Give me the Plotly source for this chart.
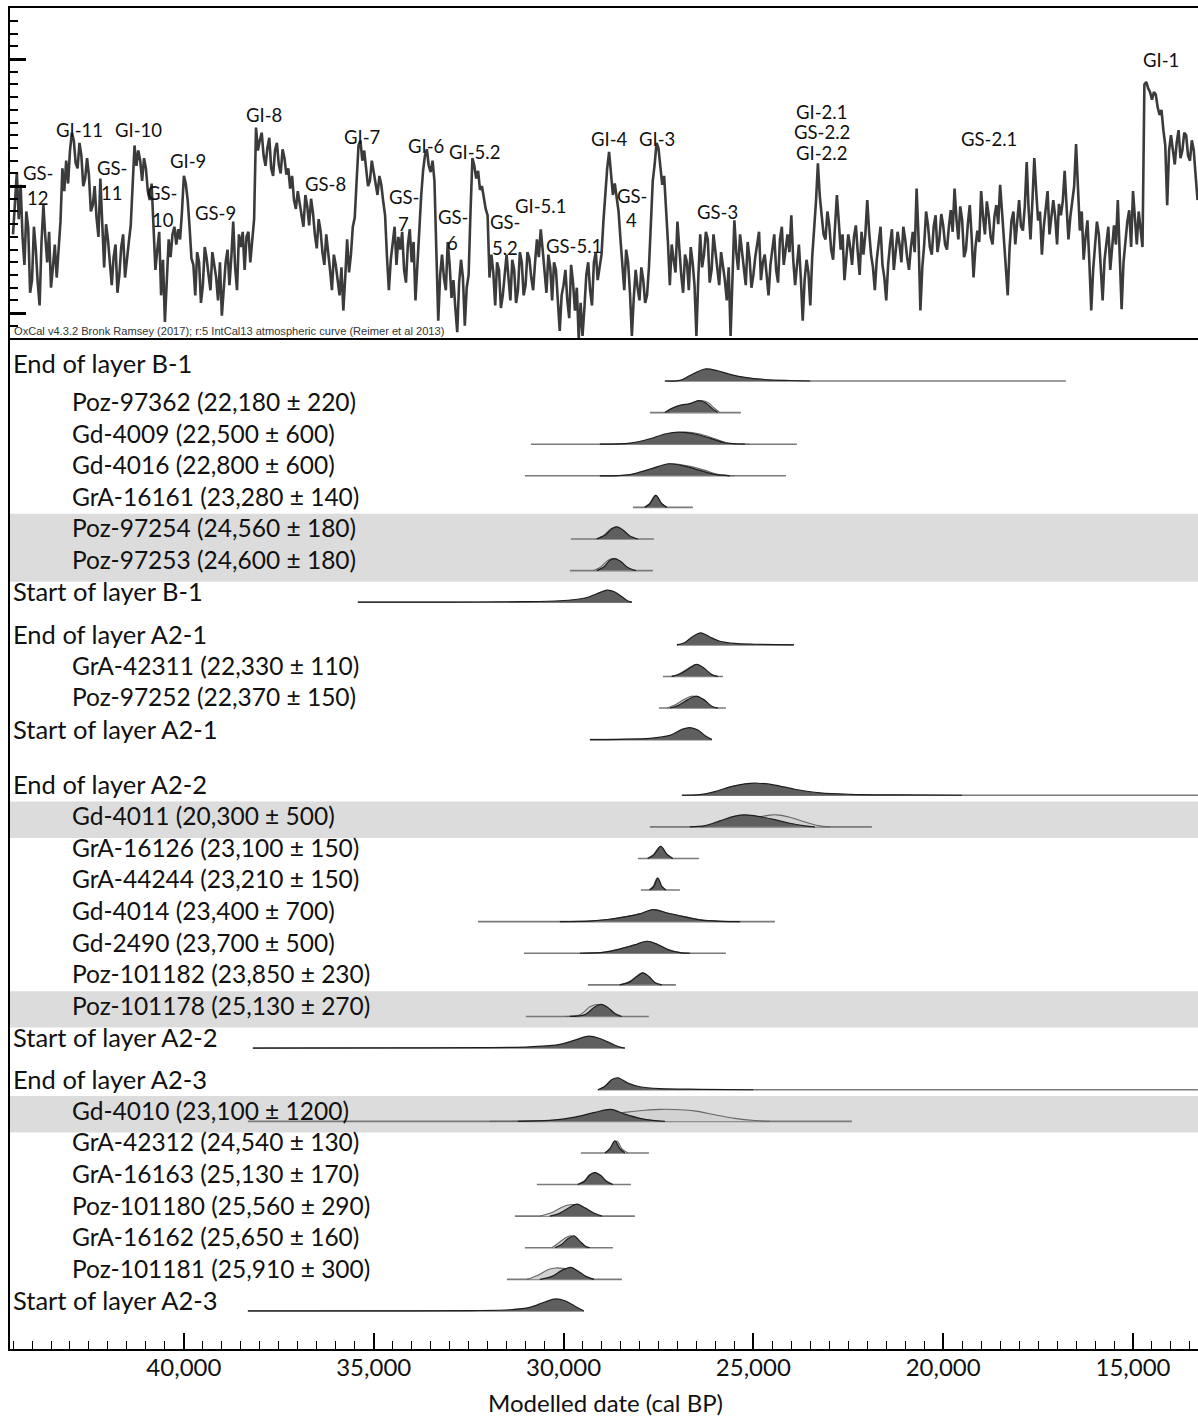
import plotly.graph_objects as go

# ---------------- Top panel: ice-core d18O record ----------------
ngrip_age_bp = [
    44500, 44450, 44400, 44350, 44300, 44250, 44200, 44150, 44100, 44050, 44000,
    43950, 43900, 43850, 43800, 43750, 43700, 43650, 43600, 43550, 43500, 43450, 43400, 43350, 43300, 43250, 43200, 43150, 43100, 43050, 43000,
    42950, 42900, 42850, 42800, 42750, 42700, 42650, 42600, 42550, 42500, 42450, 42400, 42350, 42300, 42250, 42200, 42150, 42100, 42050, 42000,
    41950, 41900, 41850, 41800, 41750, 41700, 41650, 41600, 41550, 41500, 41450, 41400, 41350, 41300, 41250, 41200, 41150, 41100, 41050, 41000,
    40950, 40900, 40850, 40800, 40750, 40700, 40650, 40600, 40550, 40500, 40450, 40400, 40350, 40300, 40250, 40200, 40150, 40100, 40050, 40000,
    39950, 39900, 39850, 39800, 39750, 39700, 39650, 39600, 39550, 39500, 39450, 39400, 39350, 39300, 39250, 39200, 39150, 39100, 39050, 39000,
    38950, 38900, 38850, 38800, 38750, 38700, 38650, 38600, 38550, 38500, 38450, 38400, 38350, 38300, 38250, 38200, 38150, 38100, 38050, 38000,
    37950, 37900, 37850, 37800, 37750, 37700, 37650, 37600, 37550, 37500, 37450, 37400, 37350, 37300, 37250, 37200, 37150, 37100, 37050, 37000,
    36950, 36900, 36850, 36800, 36750, 36700, 36650, 36600, 36550, 36500, 36450, 36400, 36350, 36300, 36250, 36200, 36150, 36100, 36050, 36000,
    35950, 35900, 35850, 35800, 35750, 35700, 35650, 35600, 35550, 35500, 35450, 35400, 35350, 35300, 35250, 35200, 35150, 35100, 35050, 35000,
    34950, 34900, 34850, 34800, 34750, 34700, 34650, 34600, 34550, 34500, 34450, 34400, 34350, 34300, 34250, 34200, 34150, 34100, 34050, 34000,
    33950, 33900, 33850, 33800, 33750, 33700, 33650, 33600, 33550, 33500, 33450, 33400, 33350, 33300, 33250, 33200, 33150, 33100, 33050, 33000,
    32950, 32900, 32850, 32800, 32750, 32700, 32650, 32600, 32550, 32500, 32450, 32400, 32350, 32300, 32250, 32200, 32150, 32100, 32050, 32000,
    31950, 31900, 31850, 31800, 31750, 31700, 31650, 31600, 31550, 31500, 31450, 31400, 31350, 31300, 31250, 31200, 31150, 31100, 31050, 31000,
    30950, 30900, 30850, 30800, 30750, 30700, 30650, 30600, 30550, 30500, 30450, 30400, 30350, 30300, 30250, 30200, 30150, 30100, 30050, 30000,
    29950, 29900, 29850, 29800, 29750, 29700, 29650, 29600, 29550, 29500, 29450, 29400, 29350, 29300, 29250, 29200, 29150, 29100, 29050, 29000,
    28950, 28900, 28850, 28800, 28750, 28700, 28650, 28600, 28550, 28500, 28450, 28400, 28350, 28300, 28250, 28200, 28150, 28100, 28050, 28000,
    27950, 27900, 27850, 27800, 27750, 27700, 27650, 27600, 27550, 27500, 27450, 27400, 27350, 27300, 27250, 27200, 27150, 27100, 27050, 27000,
    26950, 26900, 26850, 26800, 26750, 26700, 26650, 26600, 26550, 26500, 26450, 26400, 26350, 26300, 26250, 26200, 26150, 26100, 26050, 26000,
    25950, 25900, 25850, 25800, 25750, 25700, 25650, 25600, 25550, 25500, 25450, 25400, 25350, 25300, 25250, 25200, 25150, 25100, 25050, 25000,
    24950, 24900, 24850, 24800, 24750, 24700, 24650, 24600, 24550, 24500, 24450, 24400, 24350, 24300, 24250, 24200, 24150, 24100, 24050, 24000,
    23950, 23900, 23850, 23800, 23750, 23700, 23650, 23600, 23550, 23500, 23450, 23400, 23350, 23300, 23250, 23200, 23150, 23100, 23050, 23000,
    22950, 22900, 22850, 22800, 22750, 22700, 22650, 22600, 22550, 22500, 22450, 22400, 22350, 22300, 22250, 22200, 22150, 22100, 22050, 22000,
    21950, 21900, 21850, 21800, 21750, 21700, 21650, 21600, 21550, 21500, 21450, 21400, 21350, 21300, 21250, 21200, 21150, 21100, 21050, 21000,
    20950, 20900, 20850, 20800, 20750, 20700, 20650, 20600, 20550, 20500, 20450, 20400, 20350, 20300, 20250, 20200, 20150, 20100, 20050, 20000,
    19950, 19900, 19850, 19800, 19750, 19700, 19650, 19600, 19550, 19500, 19450, 19400, 19350, 19300, 19250, 19200, 19150, 19100, 19050, 19000,
    18950, 18900, 18850, 18800, 18750, 18700, 18650, 18600, 18550, 18500, 18450, 18400, 18350, 18300, 18250, 18200, 18150, 18100, 18050, 18000,
    17950, 17900, 17850, 17800, 17750, 17700, 17650, 17600, 17550, 17500, 17450, 17400, 17350, 17300, 17250, 17200, 17150, 17100, 17050, 17000,
    16950, 16900, 16850, 16800, 16750, 16700, 16650, 16600, 16550, 16500, 16450, 16400, 16350, 16300, 16250, 16200, 16150, 16100, 16050, 16000,
    15950, 15900, 15850, 15800, 15750, 15700, 15650, 15600, 15550, 15500, 15450, 15400, 15350, 15300, 15250, 15200, 15150, 15100, 15050, 15000,
    14950, 14900, 14850, 14800, 14750, 14700, 14650, 14600, 14550, 14500, 14450, 14400, 14350, 14300, 14250, 14200, 14150, 14100, 14050, 14000,
    13950, 13900, 13850, 13800, 13750, 13700, 13650, 13600, 13550, 13500, 13450, 13400, 13350, 13300,
]
ngrip_d18o = [
    -42.9, -41.6, -40.45, -42.3, -40.95, -43.0, -44.1, -42.0, -42.65, -45.2, -44.7,
    -42.6, -43.5, -44.8, -45.7, -43.2, -41.75, -43.0, -44.0, -42.8, -45.0, -44.2, -43.3, -44.6, -43.5, -42.4, -40.3, -41.2, -40.0, -40.9, -39.6,
    -38.9, -39.2, -40.1, -40.3, -39.3, -39.8, -41.0, -40.7, -39.9, -40.6, -42.0, -41.75, -41.0, -42.25, -43.0, -40.7, -42.6, -44.2, -42.5, -43.1,
    -44.0, -44.9, -43.8, -43.3, -45.2, -44.5, -43.4, -42.9, -44.6, -44.0, -43.2, -42.55, -41.0, -39.4, -40.2, -39.6, -40.0, -40.8, -39.9, -40.3,
    -41.2, -41.55, -40.9, -42.9, -44.3, -43.5, -42.8, -45.3, -43.9, -46.35, -44.4, -43.1, -43.8, -42.9, -42.6, -43.3, -42.7, -43.1, -42.0, -40.6,
    -40.9, -41.55, -42.6, -43.85, -44.1, -45.3, -43.6, -44.0, -45.6, -44.9, -43.4, -43.85, -44.5, -45.1, -43.6, -44.1, -44.6, -45.5, -44.0, -46.1,
    -45.0, -44.0, -43.5, -44.9, -43.8, -42.4, -44.2, -45.1, -42.9, -43.4, -42.8, -44.3, -43.0, -42.8, -44.0, -43.2, -42.3, -38.7, -39.6, -39.2,
    -38.9, -39.8, -40.2, -39.5, -39.1, -40.3, -40.6, -39.6, -39.3, -40.15, -40.5, -39.55, -39.9, -40.55, -40.3, -41.1, -40.6, -41.55, -41.9, -41.2,
    -41.6, -42.15, -42.6, -41.35, -41.8, -42.55, -41.5, -42.05, -42.9, -43.45, -42.3, -42.75, -43.6, -44.1, -42.9, -43.5, -44.3, -45.1, -43.7, -44.1,
    -44.8, -45.3, -44.2, -45.9, -44.6, -43.1, -44.4, -43.7, -42.6, -42.25, -40.8, -39.4, -39.2, -40.0, -39.6, -40.3, -41.0, -40.8, -40.0, -40.45,
    -41.0, -41.35, -40.6, -40.95, -41.6, -42.15, -43.8, -45.1, -43.9, -43.1, -42.6, -44.1, -43.0, -43.5, -42.8, -44.3, -44.8, -43.3, -42.7, -44.0,
    -43.2, -45.5, -44.0, -43.1, -41.4, -40.4, -39.8, -39.55, -40.2, -40.45, -40.0, -40.8, -43.5, -46.3, -44.5, -43.7, -44.6, -45.1, -43.2, -44.1,
    -45.4, -44.7, -45.8, -46.75, -44.8, -43.9, -44.6, -46.5, -45.0, -44.5, -42.0, -39.9, -40.2, -40.7, -40.4, -41.15, -41.0, -41.55, -41.9, -42.15,
    -44.6, -43.7, -44.4, -45.7, -44.0, -44.3, -45.8, -45.3, -44.4, -43.7, -44.6, -45.5, -43.9, -44.3, -45.6, -45.1, -43.6, -44.0, -45.3, -44.9,
    -43.6, -43.85, -44.6, -45.1, -44.0, -43.1, -43.8, -42.7, -43.5, -44.5, -45.2, -43.7, -44.2, -45.5, -44.0, -44.3, -45.4, -46.7, -45.3, -44.9,
    -44.3, -45.5, -46.2, -44.1, -44.8, -45.9, -45.0, -47.0, -45.6, -46.9, -45.8, -44.5, -44.0, -45.1, -45.7, -44.0, -43.6, -44.7, -44.2, -43.7,
    -42.4, -41.2, -40.3, -39.65, -40.6, -41.35, -40.9, -41.55, -42.0, -43.1, -44.3, -45.1, -43.5, -44.0, -45.2, -46.9, -45.4, -44.3, -45.0, -45.5,
    -44.2, -44.7, -45.6, -45.3, -44.2, -42.75, -40.8, -40.15, -39.3, -39.5, -40.3, -40.95, -40.6, -41.75, -43.2, -44.9, -43.3, -43.9, -44.4, -42.4,
    -43.6, -44.5, -45.2, -43.7, -44.0, -45.1, -43.4, -44.0, -44.9, -46.9, -44.6, -42.9, -44.2, -43.7, -42.8, -43.1, -44.8, -44.3, -42.9, -43.5,
    -44.2, -44.9, -43.6, -44.1, -44.7, -45.5, -44.2, -46.9, -44.8, -42.35, -43.6, -44.3, -42.9, -43.5, -44.2, -44.9, -43.2, -43.85, -45.0, -44.5,
    -43.8, -43.3, -42.8, -44.7, -44.0, -43.7, -44.5, -45.3, -44.1, -43.5, -42.9, -44.3, -44.8, -43.1, -42.6, -44.1, -43.5, -42.9, -43.6, -42.15,
    -43.9, -44.9, -44.1, -43.3, -44.6, -46.3, -44.7, -43.9, -44.4, -45.7, -43.8, -42.75, -41.6, -40.1, -41.4, -42.15, -42.9, -43.1, -42.0, -42.55,
    -43.5, -43.9, -42.6, -41.35, -42.4, -43.5, -42.9, -44.7, -43.8, -42.9, -43.4, -44.1, -43.0, -42.55, -43.6, -44.5, -42.8, -43.7, -42.9, -41.55,
    -42.8, -43.7, -44.2, -45.1, -43.9, -43.1, -42.6, -44.1, -44.6, -45.5, -44.1, -43.3, -42.7, -44.3, -43.6, -42.8, -43.3, -44.0, -42.6, -43.1,
    -43.8, -44.3, -43.4, -42.8, -43.6, -41.1, -43.0, -45.9, -44.2, -43.3, -42.0, -42.55, -43.4, -43.7, -42.6, -42.15, -43.6, -43.1, -42.1, -42.55,
    -43.3, -43.5, -42.6, -41.95, -42.8, -41.1, -42.3, -43.1, -41.8, -42.35, -43.8, -43.5, -42.5, -41.75, -43.0, -44.6, -43.4, -42.75, -43.2, -41.2,
    -42.2, -42.9, -41.6, -42.15, -43.0, -43.3, -42.2, -41.75, -42.5, -40.95, -42.0, -43.1, -43.9, -45.3, -43.4, -42.35, -42.0, -43.3, -42.4, -41.55,
    -42.6, -42.75, -41.8, -40.05, -41.9, -43.1, -41.6, -39.9, -41.2, -42.35, -42.0, -43.7, -42.6, -41.75, -41.2, -42.9, -42.3, -41.55, -42.2, -43.3,
    -41.7, -42.15, -41.6, -40.4, -41.8, -43.1, -42.2, -41.55, -41.0, -39.35, -41.4, -42.75, -42.0, -43.9, -43.0, -42.35, -44.0, -45.9, -44.3, -43.5,
    -42.4, -42.9, -44.2, -45.5, -43.9, -43.3, -42.6, -44.3, -43.5, -42.55, -43.3, -41.55, -43.7, -45.85, -44.0, -43.1, -42.4, -41.95, -43.4, -41.2,
    -42.5, -43.3, -42.0, -42.75, -43.4, -37.0, -36.9, -37.15, -37.3, -37.6, -37.3, -37.4, -37.9, -38.2, -38.0, -38.8, -39.4, -41.75, -39.6, -39.0,
    -39.6, -40.15, -39.3, -38.8, -39.9, -39.6, -38.9, -39.0, -39.8, -40.0, -39.2, -39.6, -40.6, -41.55,
]

gi_labels = ["GS-", "12", "GI-11", "GI-10", "GS-", "11", "GS-", "10", "GI-9", "GS-9",
             "GI-8", "GS-8", "GI-7", "GS-", "7", "GI-6", "GI-5.2", "GS-", "6", "GS-",
             "5.2", "GI-5.1", "GS-5.1", "GI-4", "GI-3", "GS-", "4", "GS-3", "GI-2.1",
             "GS-2.2", "GI-2.2", "GS-2.1", "GI-1"]
gi_label_age = [43846, 43846, 42739, 41185, 41896, 41896, 40579, 40553, 39895, 39157,
                37893, 36260, 35311, 34205, 34205, 33626, 32335, 32914, 32914, 31545,
                31545, 30597, 29727, 28779, 27541, 28200, 28200, 25934, 23195,
                23195, 23195, 18796, 14266]
gi_label_d18o = [-40.49, -41.47, -38.80, -38.80, -40.29, -41.28, -41.28, -42.34, -40.02, -42.06,
                 -38.20, -40.92, -39.07, -41.43, -42.50, -39.43, -39.66, -42.22, -43.24, -42.42,
                 -43.44, -41.79, -43.36, -39.15, -39.15, -41.39, -42.34, -42.02, -38.09,
                 -38.87, -39.70, -39.15, -36.04]

# ---------------- Bottom panel: OxCal distributions ----------------
row_labels = [
    "End of layer B-1", "Poz-97362 (22,180 ± 220)", "Gd-4009 (22,500 ± 600)",
    "Gd-4016 (22,800 ± 600)", "GrA-16161 (23,280 ± 140)", "Poz-97254 (24,560 ± 180)",
    "Poz-97253 (24,600 ± 180)", "Start of layer B-1",
    "End of layer A2-1", "GrA-42311 (22,330 ± 110)", "Poz-97252 (22,370 ± 150)",
    "Start of layer A2-1",
    "End of layer A2-2", "Gd-4011 (20,300 ± 500)", "GrA-16126 (23,100 ± 150)",
    "GrA-44244 (23,210 ± 150)", "Gd-4014 (23,400 ± 700)", "Gd-2490 (23,700 ± 500)",
    "Poz-101182 (23,850 ± 230)", "Poz-101178 (25,130 ± 270)", "Start of layer A2-2",
    "End of layer A2-3", "Gd-4010 (23,100 ± 1200)", "GrA-42312 (24,540 ± 130)",
    "GrA-16163 (25,130 ± 170)", "Poz-101180 (25,560 ± 290)", "GrA-16162 (25,650 ± 160)",
    "Poz-101181 (25,910 ± 300)", "Start of layer A2-3",
]
row_kind = ["boundary", "date", "date", "date", "date", "date", "date", "boundary",
            "boundary", "date", "date", "boundary",
            "boundary", "date", "date", "date", "date", "date", "date", "date", "boundary",
            "boundary", "date", "date", "date", "date", "date", "date", "boundary"]
shaded_rows = [5, 6, 13, 19, 22]

range_from = [27330, 27726, 30860, 31018, 28173, 29806, 29832, 35417,
              27014, 27383, 27489, 29306,
              26883, 27726, 28042, 27963, 32256, 31044, 29359, 30992, 38183,
              29095, 38314, 29543, 30702, 31281, 31018, 31492, 38314]
range_to = [16768, 25328, 23854, 24143, 26593, 27620, 27647, 28200,
            23933, 25803, 25724, 26093,
            13290, 21878, 26435, 26935, 24433, 25724, 27041, 27752, 28384,
            13290, 22405, 27752, 28226, 28121, 28700, 28463, 29464]

post_age = [
    [27330, 26935, 26672, 26277, 25935, 25618, 25223, 24697, 24038, 23500],
    [27330, 27146, 26935, 26672, 26435, 26251, 26093, 25935],
    [29043, 28252, 27726, 27330, 26962, 26540, 26146, 25750, 25223],
    [29043, 28252, 27726, 27225, 26804, 26409, 26014, 25618],
    [27857, 27726, 27567, 27409, 27278],
    [29122, 28910, 28726, 28594, 28436, 28252, 28041],
    [29122, 28938, 28780, 28648, 28490, 28306, 28094],
    [35417, 32994, 31150, 30096, 29438, 29043, 28858, 28647, 28463, 28305, 28200],
    [27014, 26803, 26593, 26382, 26145, 25882, 25487, 24960, 23933],
    [27146, 26935, 26672, 26488, 26303, 26093, 25935],
    [27198, 26988, 26725, 26514, 26303, 26093, 25935],
    [29306, 28516, 27726, 27199, 26883, 26672, 26461, 26277, 26093],
    [26883, 26409, 26014, 25618, 25223, 24881, 24433, 23906, 23248, 22458, 21141, 19500],
    [26672, 26277, 25882, 25487, 25197, 24828, 24433, 24038, 23643, 23380],
    [27778, 27620, 27436, 27278, 27120],
    [27726, 27620, 27515, 27409, 27304],
    [30096, 29306, 28779, 28384, 27989, 27647, 27251, 26803, 26409, 25882, 25355],
    [29569, 28910, 28516, 28121, 27804, 27541, 27251, 26935, 26672],
    [28516, 28252, 28041, 27910, 27752, 27594, 27409],
    [29832, 29438, 29174, 29016, 28832, 28648, 28463],
    [38183, 34311, 32203, 30886, 30096, 29622, 29333, 29043, 28726, 28516, 28384],
    [29095, 28910, 28726, 28568, 28305, 27989, 27462, 26409, 25000],
    [31202, 30360, 29701, 29174, 28753, 28384, 27989, 27594, 27330],
    [28910, 28780, 28647, 28516, 28384],
    [29622, 29438, 29306, 29174, 29017, 28858, 28700],
    [30360, 30096, 29833, 29648, 29438, 29227, 28990],
    [30228, 30044, 29886, 29728, 29570, 29412, 29306],
    [30623, 30307, 30044, 29807, 29622, 29412, 29201],
    [38314, 34311, 32467, 31413, 30886, 30491, 30201, 29965, 29701, 29464],
]
post_prob = [
    [0, 0.05, 0.45, 1.0, 0.85, 0.55, 0.3, 0.12, 0.04, 0],
    [0, 0.35, 0.6, 0.75, 1.0, 0.8, 0.35, 0],
    [0, 0.08, 0.45, 0.85, 1.0, 0.85, 0.5, 0.12, 0],
    [0, 0.1, 0.55, 1.0, 0.8, 0.45, 0.12, 0],
    [0, 0.3, 1.0, 0.3, 0],
    [0, 0.3, 0.85, 1.0, 0.75, 0.25, 0],
    [0, 0.3, 0.85, 1.0, 0.75, 0.25, 0],
    [0, 0.01, 0.04, 0.12, 0.35, 0.8, 1.0, 0.85, 0.45, 0.1, 0],
    [0, 0.2, 0.7, 1.0, 0.65, 0.3, 0.12, 0.05, 0],
    [0, 0.2, 0.7, 1.0, 0.7, 0.15, 0],
    [0, 0.2, 0.7, 1.0, 0.7, 0.15, 0],
    [0, 0.03, 0.1, 0.35, 0.85, 1.0, 0.8, 0.35, 0],
    [0, 0.05, 0.3, 0.7, 0.95, 1.0, 0.85, 0.5, 0.2, 0.08, 0.03, 0],
    [0, 0.1, 0.5, 0.9, 1.0, 0.85, 0.6, 0.3, 0.08, 0],
    [0, 0.3, 1.0, 0.35, 0],
    [0, 0.3, 1.0, 0.3, 0],
    [0, 0.05, 0.2, 0.4, 0.65, 1.0, 0.7, 0.4, 0.15, 0.03, 0],
    [0, 0.1, 0.35, 0.7, 1.0, 0.75, 0.3, 0.05, 0],
    [0, 0.25, 0.75, 1.0, 0.7, 0.2, 0],
    [0, 0.15, 0.8, 1.0, 0.75, 0.25, 0],
    [0, 0.01, 0.03, 0.1, 0.3, 0.75, 1.0, 0.8, 0.35, 0.08, 0],
    [0, 0.3, 0.85, 1.0, 0.55, 0.25, 0.1, 0.04, 0],
    [0, 0.08, 0.35, 0.75, 1.0, 0.6, 0.25, 0.06, 0],
    [0, 0.35, 1.0, 0.35, 0],
    [0, 0.3, 0.8, 1.0, 0.75, 0.25, 0],
    [0, 0.25, 0.75, 1.0, 0.7, 0.3, 0],
    [0, 0.3, 0.75, 1.0, 0.55, 0.1, 0],
    [0, 0.25, 0.75, 1.0, 0.7, 0.25, 0],
    [0, 0.01, 0.03, 0.1, 0.3, 0.75, 1.0, 0.85, 0.4, 0],
]
# unmodelled (likelihood) distributions, None where not drawn
prior_age = [None,
    [27251, 26935, 26672, 26409, 26198, 26040, 25882],
    [29043, 28252, 27726, 27251, 26804, 26409, 26014, 25671, 25092],
    [29043, 28252, 27673, 27146, 26672, 26277, 25935, 25487],
    [27880, 27740, 27580, 27420, 27290],
    [29150, 28940, 28750, 28620, 28460, 28280, 28070],
    [29201, 29017, 28833, 28701, 28543, 28359, 28147],
    None, None,
    [27170, 26960, 26700, 26510, 26330, 26120, 25960],
    [27277, 27067, 26803, 26593, 26382, 26172, 25988],
    None, None,
    [26409, 26014, 25487, 24960, 24565, 24381, 24038, 23643, 23300, 22984],
    [27800, 27640, 27456, 27298, 27140],
    [27746, 27640, 27535, 27429, 27324],
    [30096, 29306, 28779, 28384, 27989, 27630, 27230, 26780, 26380, 25860, 25330],
    [29569, 28910, 28516, 28121, 27790, 27525, 27235, 26920, 26660],
    [28540, 28275, 28060, 27930, 27770, 27612, 27425],
    [29964, 29569, 29306, 29148, 28937, 28727, 28516],
    None, None,
    [31940, 30886, 29833, 29043, 28384, 27857, 27436, 26935, 26514, 26014, 25487, 24960, 24565],
    [28858, 28726, 28594, 28463, 28305],
    [29640, 29455, 29322, 29190, 29033, 28874, 28716],
    [30623, 30307, 30043, 29833, 29648, 29438, 29227, 29043],
    [30307, 30149, 29965, 29807, 29622, 29464, 29359],
    [30965, 30676, 30412, 30201, 29965, 29754, 29517, 29306, 29201],
    None,
]
prior_prob = [None,
    [0, 0.3, 0.7, 1.0, 0.85, 0.4, 0],
    [0, 0.06, 0.35, 0.8, 1.0, 0.85, 0.45, 0.1, 0],
    [0, 0.08, 0.55, 1.0, 0.78, 0.45, 0.12, 0],
    [0, 0.3, 1.0, 0.3, 0],
    [0, 0.3, 0.85, 1.0, 0.75, 0.25, 0],
    [0, 0.3, 0.85, 1.0, 0.75, 0.25, 0],
    None, None,
    [0, 0.2, 0.7, 1.0, 0.7, 0.15, 0],
    [0, 0.25, 0.75, 1.0, 0.7, 0.15, 0],
    None, None,
    [0, 0.08, 0.35, 0.75, 0.98, 1.0, 0.8, 0.4, 0.1, 0],
    [0, 0.3, 1.0, 0.35, 0],
    [0, 0.3, 1.0, 0.3, 0],
    [0, 0.05, 0.2, 0.4, 0.65, 1.0, 0.7, 0.4, 0.15, 0.03, 0],
    [0, 0.1, 0.35, 0.7, 1.0, 0.75, 0.3, 0.05, 0],
    [0, 0.25, 0.75, 1.0, 0.7, 0.2, 0],
    [0, 0.15, 0.8, 1.0, 0.8, 0.25, 0],
    None, None,
    [0, 0.04, 0.15, 0.45, 0.75, 0.92, 1.0, 0.97, 0.85, 0.55, 0.25, 0.07, 0],
    [0, 0.35, 1.0, 0.35, 0],
    [0, 0.3, 0.8, 1.0, 0.75, 0.25, 0],
    [0, 0.3, 0.75, 0.95, 0.95, 0.65, 0.25, 0],
    [0, 0.35, 0.8, 1.0, 0.55, 0.1, 0],
    [0, 0.35, 0.8, 0.95, 0.9, 0.8, 0.4, 0.05, 0],
    None,
]

x_tick_step = 5000
x_minor_step = 500
x_title = "Modelled date (cal BP)"
credit = "OxCal v4.3.2 Bronk Ramsey (2017); r:5 IntCal13 atmospheric curve (Reimer et al 2013)"

# ---------------- layout geometry (page px; body margin removed by post_script) ----------------
W, H = 1198, 1416
AXIS_PX = 1349                      # page y of the bottom axis line
M_L, M_R, M_T, M_B = 10, 0, 8, H - AXIS_PX
plot_h = H - M_T - M_B
plot_w = W - M_L - M_R
split_px = 338 - M_T
top_dom = [1 - split_px / plot_h, 1]
bot_dom = [0, 1 - split_px / plot_h]
bot_px = plot_h - split_px
ROW_PX = 31.6
bot_units = bot_px / ROW_PX
YEARS_PER_PX = 26.34
X_LEFT = 44580
X_RANGE = [X_LEFT, X_LEFT - plot_w * YEARS_PER_PX]
Y2_RANGE = [-46.98, -33.99]
GAP_AFTER = {7: 0.35, 11: 0.76, 20: 0.32}
PEAK_H = 0.38
FONT = "Lato"


def paper_x(page_px):
    return (page_px - M_L) / plot_w


def paper_y(page_py):
    return (AXIS_PX - page_py) / plot_h


base = []
pos = 1.36
for i in range(len(row_labels)):
    base.append(pos)
    pos += 1 + GAP_AFTER.get(i, 0)

fig = go.Figure()

bx, by = [], []
for i in range(len(row_labels)):
    bx += [range_from[i], range_to[i], None]
    by += [base[i], base[i], None]
fig.add_trace(go.Scatter(x=bx, y=by, mode="lines", line=dict(color="#7a7a7a", width=1.6),
                         xaxis="x", yaxis="y", hoverinfo="skip", showlegend=False))

for i in range(len(row_labels)):
    if prior_age[i] is not None:
        fig.add_trace(go.Scatter(
            x=prior_age[i], y=[base[i] - p * PEAK_H for p in prior_prob[i]],
            mode="lines", fill="toself", fillcolor="#d2d2d2",
            line=dict(color="#666666", width=1.1, shape="spline", smoothing=0.9),
            xaxis="x", yaxis="y", hoverinfo="skip", showlegend=False))
    fig.add_trace(go.Scatter(
        x=post_age[i], y=[base[i] - p * PEAK_H for p in post_prob[i]],
        mode="lines", fill="toself", fillcolor="#5f5f5f",
        line=dict(color="#1e1e1e", width=1.2, shape="spline", smoothing=0.9),
        xaxis="x", yaxis="y", hoverinfo="skip", showlegend=False))

fig.add_trace(go.Scatter(x=ngrip_age_bp, y=ngrip_d18o, mode="lines",
                         line=dict(color="#3b3b3b", width=2.6),
                         xaxis="x2", yaxis="y2", hoverinfo="skip", showlegend=False))

shapes = []
for i in shaded_rows:
    shapes.append(dict(type="rect", xref="paper", yref="y", x0=0, x1=1,
                       y0=base[i] - 0.8, y1=base[i] + 0.35,
                       fillcolor="#dcdcdc", line=dict(width=0), layer="below"))

annotations = []
for i, lab in enumerate(row_labels):
    is_b = row_kind[i] == "boundary"
    px = 11 if is_b else 70
    dy = 0.57 if i == 0 else 0.35
    annotations.append(dict(text=lab, xref="paper", yref="y", x=paper_x(px),
                            y=base[i] - dy, xanchor="left", yanchor="middle", showarrow=False,
                            font=dict(family=FONT, size=25.5 if is_b else 24.5, color="#111111")))
for t, a, v in zip(gi_labels, gi_label_age, gi_label_d18o):
    annotations.append(dict(text=t, xref="x2", yref="y2", x=a, y=v, xanchor="center",
                            yanchor="middle", showarrow=False,
                            font=dict(family=FONT, size=18.5, color="#111111")))
annotations.append(dict(text=credit, xref="paper", yref="paper", x=paper_x(12),
                        y=paper_y(331), xanchor="left", yanchor="middle", showarrow=False,
                        font=dict(family="Liberation Sans", size=11.1, color="#333333")))
annotations.append(dict(text=x_title, xref="paper", yref="paper",
                        x=paper_x(605), y=paper_y(1402), xanchor="center", yanchor="middle",
                        showarrow=False, font=dict(family=FONT, size=24, color="#111111")))

fig.update_layout(
    width=W, height=H, margin=dict(l=M_L, r=M_R, t=M_T, b=M_B, pad=0),
    paper_bgcolor="white", plot_bgcolor="white", showlegend=False,
    shapes=shapes, annotations=annotations,
    xaxis=dict(domain=[0, 1], anchor="y", range=X_RANGE, showgrid=False, zeroline=False,
               showline=True, linecolor="black", linewidth=2,
               ticks="inside", ticklen=16, tickwidth=2, tickcolor="black",
               dtick=x_tick_step, tick0=0, tickformat=",.0f",
               tickfont=dict(family=FONT, size=24, color="#111111"),
               ticklabelstandoff=-4,
               minor=dict(dtick=x_minor_step, ticks="inside", ticklen=8, tickwidth=1.4,
                          tickcolor="black", showgrid=False)),
    yaxis=dict(domain=bot_dom, anchor="x", range=[bot_units, 0], showgrid=False,
               zeroline=False, showticklabels=False, ticks="", showline=True,
               linecolor="black", linewidth=2),
    xaxis2=dict(domain=[0, 1], anchor="y2", matches="x", showgrid=False, zeroline=False,
                showticklabels=False, ticks="", showline=True, mirror=True,
                linecolor="black", linewidth=2),
    yaxis2=dict(domain=top_dom, anchor="x2", range=Y2_RANGE, showgrid=False, zeroline=False,
                showticklabels=False, showline=True, linecolor="black", linewidth=2,
                ticks="inside", ticklen=16, tickwidth=2.5, tickcolor="black",
                dtick=5, tick0=-36,
                minor=dict(dtick=0.5, tick0=-36, ticks="inside", ticklen=8, tickwidth=1.5,
                           tickcolor="black", showgrid=False)),
)

fig.write_html("out.html",
               config={"displayModeBar": False},
               post_script="document.body.style.margin='0';"
                           "document.documentElement.style.overflow='hidden';")
